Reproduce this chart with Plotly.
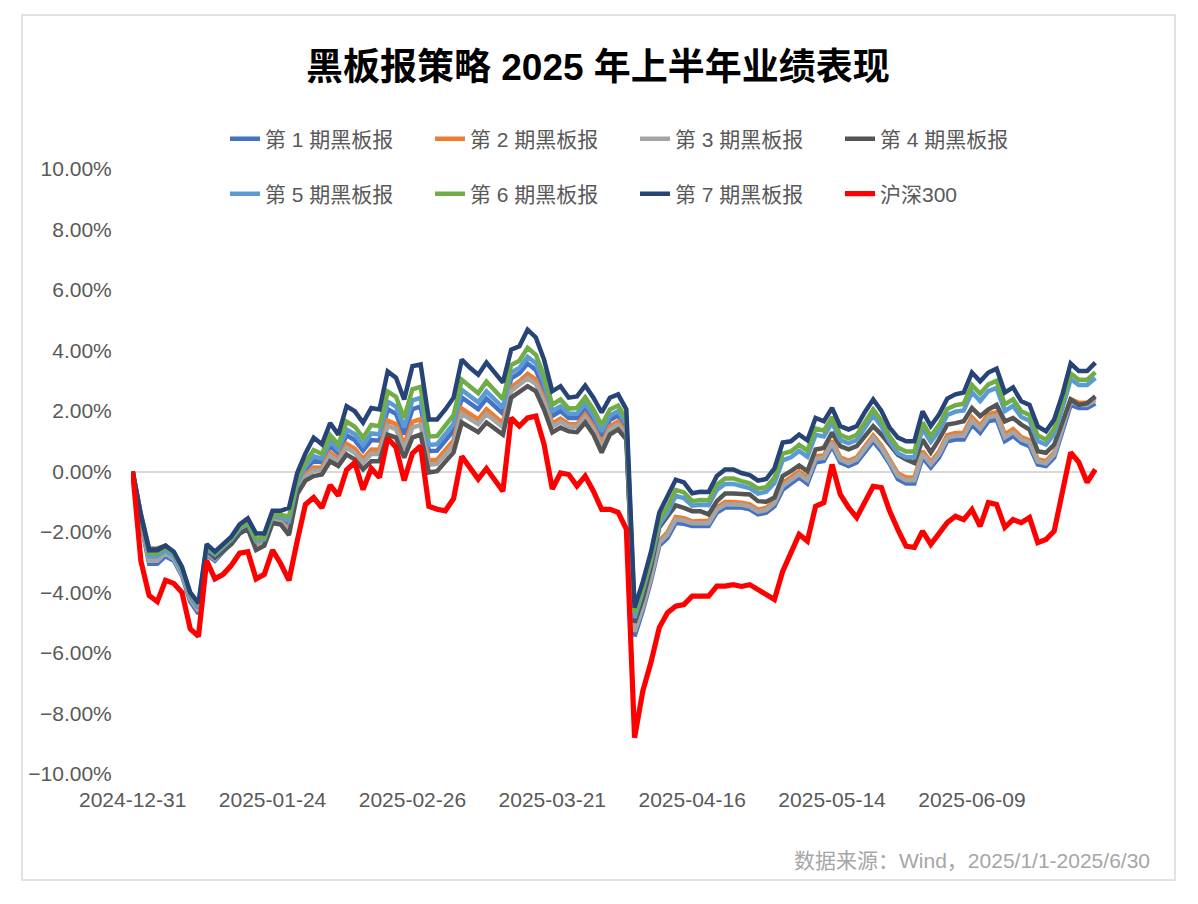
import pandas as pd
import plotly.graph_objects as go

# ---- data (percent returns since 2024-12-31) ----
HOLIDAYS = ["2025-01-01", "2025-01-28", "2025-01-29", "2025-01-30", "2025-01-31",
            "2025-02-03", "2025-02-04", "2025-04-04", "2025-05-01", "2025-05-02",
            "2025-05-05", "2025-06-02"]
dates = [d.strftime("%Y-%m-%d") for d in pd.bdate_range("2024-12-31", "2025-06-30")
         if d.strftime("%Y-%m-%d") not in HOLIDAYS]

tick_dates = ["2024-12-31", "2025-01-24", "2025-02-26", "2025-03-21",
              "2025-04-16", "2025-05-14", "2025-06-09"]

s1 = [0, -1.7, -3.05, -3.05, -2.8, -2.95, -3.45, -4.3, -4.7, -2.75,
      -2.95, -2.65, -2.35, -1.95, -1.75, -2.3, -2.25, -1.5, -1.55, -1.72,
      -0.45, 0.06, 0.36, 0.3, 0.84, 0.6, 1.2, 1.04, 0.69, 1.04,
      1.02, 2.06, 1.91, 1.23, 2.06, 2.15, 0.67, 0.69, 1.0, 1.35,
      2.45, 2.24, 2.06, 2.41, 2.15, 1.91, 3.08, 3.25, 3.57, 3.36,
      2.71, 1.83, 2.0, 1.77, 1.77, 2.1, 1.7, 1.16, 1.7, 1.85,
      1.45, -5.45, -4.6, -3.6, -2.45, -2.2, -1.7, -1.73, -1.8, -1.8,
      -1.8, -1.36, -1.19, -1.19, -1.19, -1.25, -1.42, -1.36, -1.15, -0.6,
      -0.4, -0.2, -0.4, 0.3, 0.35, 0.84, 0.3, 0.18, 0.3, 0.67,
      1.0, 0.67, 0.25, -0.25, -0.4, -0.4, 0.46, 0.13, 0.46, 1.0,
      1.06, 1.06, 1.55, 1.28, 1.66, 1.72, 1.0, 1.17, 0.95, 0.84,
      0.23, 0.18, 0.46, 1.33, 2.2, 2.1, 2.1, 2.25]

s2 = [0, -1.6, -2.9, -2.9, -2.7, -2.85, -3.35, -4.2, -4.6, -2.65,
      -2.85, -2.6, -2.35, -1.98, -1.82, -2.48, -2.36, -1.61, -1.65, -1.9,
      -0.6, -0.1, 0.13, 0.12, 0.62, 0.41, 0.91, 0.75, 0.41, 0.73,
      0.72, 1.68, 1.56, 0.88, 1.64, 1.73, 0.36, 0.39, 0.69, 1.03,
      2.08, 1.89, 1.72, 2.06, 1.81, 1.6, 2.79, 2.98, 3.23, 3.04,
      2.41, 1.59, 1.75, 1.57, 1.56, 1.89, 1.49, 0.92, 1.49, 1.65,
      1.28, -5.2, -4.4, -3.4, -2.3, -2.01, -1.5, -1.54, -1.65, -1.64,
      -1.64, -1.19, -1.01, -1.01, -1.03, -1.09, -1.26, -1.2, -0.98, -0.38,
      -0.2, 0.0, -0.2, 0.51, 0.53, 1.02, 0.47, 0.35, 0.47, 0.85,
      1.19, 0.86, 0.42, -0.06, -0.2, -0.2, 0.67, 0.32, 0.66, 1.2,
      1.27, 1.28, 1.79, 1.52, 1.89, 1.96, 1.23, 1.4, 1.14, 1.03,
      0.41, 0.34, 0.64, 1.5, 2.39, 2.27, 2.27, 2.44]

s3 = [0, -1.6, -2.95, -2.95, -2.7, -2.9, -3.4, -4.2, -4.6, -2.7,
      -2.9, -2.6, -2.35, -2.0, -1.85, -2.52, -2.39, -1.64, -1.69, -1.97,
      -0.65, -0.17, 0.03, 0.04, 0.52, 0.33, 0.78, 0.62, 0.29, 0.59,
      0.58, 1.51, 1.4, 0.73, 1.45, 1.54, 0.22, 0.25, 0.55, 0.88,
      1.91, 1.73, 1.57, 1.9, 1.66, 1.46, 2.66, 2.86, 3.08, 2.9,
      2.28, 1.48, 1.64, 1.49, 1.47, 1.79, 1.39, 0.81, 1.39, 1.55,
      1.2, -5.3, -4.5, -3.5, -2.36, -2.09, -1.59, -1.62, -1.71, -1.71,
      -1.71, -1.26, -1.09, -1.09, -1.1, -1.16, -1.33, -1.27, -1.05, -0.48,
      -0.29, -0.09, -0.29, 0.42, 0.45, 0.94, 0.4, 0.28, 0.4, 0.77,
      1.11, 0.78, 0.35, -0.14, -0.29, -0.29, 0.58, 0.24, 0.57, 1.11,
      1.18, 1.18, 1.69, 1.42, 1.79, 1.85, 1.13, 1.3, 1.06, 0.95,
      0.33, 0.27, 0.56, 1.43, 2.31, 2.2, 2.2, 2.36]

s4 = [0, -1.4, -2.55, -2.55, -2.45, -2.7, -3.25, -4.1, -4.5, -2.6,
      -2.85, -2.6, -2.4, -2.05, -1.9, -2.6, -2.45, -1.7, -1.75, -2.1,
      -0.75, -0.3, -0.15, -0.1, 0.34, 0.18, 0.56, 0.4, 0.07, 0.34,
      0.34, 1.22, 1.12, 0.46, 1.12, 1.22, -0.03, 0.01, 0.3, 0.63,
      1.62, 1.45, 1.3, 1.62, 1.4, 1.22, 2.44, 2.65, 2.82, 2.65,
      2.05, 1.29, 1.45, 1.33, 1.3, 1.62, 1.22, 0.63, 1.22, 1.39,
      1.06, -5.0, -4.2, -3.15, -1.85, -1.48, -1.12, -1.2, -1.31, -1.31,
      -1.42, -0.98, -0.73, -0.73, -0.76, -0.76, -0.98, -1.0, -0.86, -0.15,
      0.01, 0.2, 0.01, 0.73, 0.78, 1.29, 0.84, 0.73, 0.84, 1.17,
      1.5, 1.22, 0.89, 0.55, 0.4, 0.28, 1.06, 0.63, 1.06, 1.55,
      1.6, 1.66, 2.1, 1.83, 2.05, 2.2, 1.66, 1.77, 1.55, 1.39,
      0.67, 0.62, 0.89, 1.6, 2.38, 2.2, 2.26, 2.49]

s5 = [0, -1.55, -2.8, -2.8, -2.6, -2.8, -3.3, -4.1, -4.5, -2.55,
      -2.75, -2.5, -2.25, -1.9, -1.72, -2.31, -2.24, -1.49, -1.52, -1.63,
      -0.39, 0.17, 0.51, 0.42, 1.0, 0.72, 1.39, 1.23, 0.88, 1.26,
      1.23, 2.31, 2.15, 1.46, 2.35, 2.43, 0.88, 0.9, 1.21, 1.57,
      2.7, 2.48, 2.29, 2.65, 2.37, 2.11, 3.27, 3.42, 3.79, 3.58,
      2.91, 2.0, 2.16, 1.91, 1.91, 2.25, 1.85, 1.32, 1.85, 1.99,
      1.57, -4.85, -3.95, -2.95, -1.77, -1.36, -0.81, -0.88, -1.13, -1.1,
      -1.11, -0.61, -0.41, -0.41, -0.48, -0.55, -0.73, -0.67, -0.38, 0.37,
      0.47, 0.68, 0.49, 1.21, 1.16, 1.62, 1.04, 0.93, 1.04, 1.48,
      1.86, 1.49, 0.99, 0.6, 0.47, 0.47, 1.41, 0.98, 1.34, 1.87,
      1.98, 2.02, 2.62, 2.33, 2.66, 2.76, 2.0, 2.17, 1.8, 1.68,
      1.01, 0.89, 1.24, 2.09, 3.05, 2.86, 2.86, 3.09]

s6 = [0, -1.5, -2.7, -2.7, -2.5, -2.7, -3.2, -4.05, -4.4, -2.45,
      -2.7, -2.45, -2.2, -1.85, -1.66, -2.23, -2.18, -1.43, -1.44, -1.49,
      -0.27, 0.31, 0.71, 0.58, 1.2, 0.89, 1.65, 1.48, 1.12, 1.54,
      1.5, 2.64, 2.47, 1.77, 2.72, 2.8, 1.16, 1.17, 1.49, 1.86,
      3.03, 2.8, 2.59, 2.97, 2.67, 2.39, 3.52, 3.66, 4.09, 3.86,
      3.17, 2.21, 2.38, 2.08, 2.1, 2.45, 2.05, 1.53, 2.05, 2.18,
      1.73, -4.7, -3.85, -2.85, -1.62, -1.17, -0.61, -0.69, -0.98, -0.94,
      -0.95, -0.44, -0.23, -0.23, -0.32, -0.39, -0.57, -0.52, -0.2, 0.59,
      0.66, 0.88, 0.69, 1.42, 1.35, 1.8, 1.21, 1.1, 1.21, 1.66,
      2.05, 1.68, 1.16, 0.79, 0.66, 0.66, 1.62, 1.17, 1.54, 2.07,
      2.19, 2.24, 2.86, 2.57, 2.88, 3.0, 2.22, 2.39, 1.99, 1.87,
      1.19, 1.05, 1.42, 2.26, 3.24, 3.03, 3.03, 3.28]

s7 = [0, -1.45, -2.6, -2.6, -2.45, -2.65, -3.15, -4.0, -4.35, -2.4,
      -2.65, -2.4, -2.15, -1.75, -1.55, -2.05, -2.05, -1.3, -1.3, -1.2,
      -0.05, 0.6, 1.12, 0.9, 1.6, 1.22, 2.16, 1.99, 1.62, 2.1,
      2.05, 3.31, 3.1, 2.38, 3.48, 3.54, 1.72, 1.72, 2.05, 2.44,
      3.7, 3.43, 3.2, 3.6, 3.27, 2.94, 4.03, 4.14, 4.69, 4.43,
      3.7, 2.65, 2.82, 2.44, 2.48, 2.84, 2.44, 1.95, 2.44, 2.55,
      2.05, -4.5, -3.65, -2.65, -1.36, -0.85, -0.27, -0.36, -0.72, -0.67,
      -0.68, -0.15, 0.07, 0.07, -0.05, -0.12, -0.3, -0.25, 0.1, 0.96,
      1.0, 1.22, 1.03, 1.77, 1.66, 2.1, 1.5, 1.39, 1.5, 1.97,
      2.38, 2.0, 1.45, 1.12, 1.0, 1.0, 1.99, 1.5, 1.88, 2.41,
      2.55, 2.61, 3.27, 2.98, 3.27, 3.4, 2.61, 2.78, 2.32, 2.2,
      1.49, 1.33, 1.72, 2.55, 3.57, 3.32, 3.32, 3.6]

hs300 = [0, -2.95, -4.1, -4.3, -3.6, -3.7, -4.0, -5.2, -5.45, -2.95,
         -3.55, -3.4, -3.1, -2.7, -2.65, -3.55, -3.4, -2.6, -3.05, -3.6,
         -2.3, -1.09, -0.86, -1.2, -0.45, -0.8, 0.05, 0.3, -0.6, 0.1,
         -0.2, 1.1, 0.8, -0.3, 0.6, 0.85, -1.15, -1.25, -1.3, -0.9,
         0.5, 0.12, -0.25, 0.1, -0.3, -0.65, 1.77, 1.5, 1.77, 1.83,
         0.9, -0.58, -0.05, -0.1, -0.48, -0.15, -0.65, -1.25, -1.25, -1.35,
         -1.9, -8.8, -7.26, -6.3, -5.16, -4.67, -4.45, -4.4, -4.12, -4.12,
         -4.12, -3.79, -3.79, -3.74, -3.8, -3.74, -3.9, -4.07, -4.23, -3.3,
         -2.68, -2.08, -2.3, -1.15, -1.03, 0.23, -0.76, -1.19, -1.52, -0.98,
         -0.49, -0.53, -1.31, -1.92, -2.47, -2.51, -1.97, -2.41, -2.08, -1.69,
         -1.48, -1.59, -1.26, -1.81, -1.03, -1.09, -1.85, -1.59, -1.69, -1.52,
         -2.35, -2.25, -1.97, -0.69, 0.63, 0.3, -0.36, 0.07]

names = ["第 1 期黑板报", "第 2 期黑板报", "第 3 期黑板报", "第 4 期黑板报",
         "第 5 期黑板报", "第 6 期黑板报", "第 7 期黑板报", "沪深300"]
series = [s1, s2, s3, s4, s5, s6, s7, hs300]
colors = ["#4472C4", "#ED7D31", "#A5A5A5", "#555555",
          "#5B9BD5", "#70AD47", "#264478", "#FF0000"]
widths = [4.5, 4.5, 4.5, 4.5, 4.5, 4.5, 4.5, 5.2]

FONT = "Liberation Sans, Noto Sans CJK SC, sans-serif"

# ---- layout geometry (pixels; page body adds an 8px offset) ----
OFF = 8
W, H = 1190, 896
L_M, R_M, T_M, B_M = 123, 101, 161, 130
PW, PH = W - L_M - R_M, H - T_M - B_M


def px(x):
    """screen x -> paper fraction"""
    return (x - OFF - L_M) / PW


def py(y):
    """screen y -> paper fraction"""
    return (H - B_M - (y - OFF)) / PH


fig = go.Figure()
for i, (nm, ys, c, w) in enumerate(zip(names, series, colors, widths)):
    fig.add_trace(go.Scatter(
        x=dates, y=ys, name=nm, mode="lines",
        line=dict(color=c, width=w),
        legend="legend" if i < 4 else "legend2",
        hoverinfo="skip",
    ))

legend_common = dict(
    orientation="h", xanchor="left", yanchor="middle",
    font=dict(family=FONT, size=21, color="#595959"),
    entrywidth=160, entrywidthmode="pixels",
    bgcolor="rgba(0,0,0,0)", itemwidth=30, tracegroupgap=0,
)

fig.update_layout(
    width=W, height=H,
    margin=dict(l=L_M, r=R_M, t=T_M, b=B_M),
    paper_bgcolor="white", plot_bgcolor="white",
    font=dict(family=FONT, color="#595959"),
    showlegend=True,
    legend=dict(x=px(225), y=py(139), **legend_common),
    legend2=dict(x=px(225), y=py(194), **legend_common),
    xaxis=dict(
        type="category", range=[-0.2, 117.2],
        tickmode="array", tickvals=tick_dates, ticktext=tick_dates,
        showgrid=False, zeroline=False, showline=False,
        ticks="outside", ticklen=7, tickcolor="rgba(0,0,0,0)",
        tickfont=dict(family=FONT, size=21, color="#595959"),
    ),
    yaxis=dict(
        range=[-10, 10], dtick=2, tickformat=".2f", ticksuffix="%",
        showgrid=False, zeroline=True, zerolinecolor="#D9D9D9", zerolinewidth=1.5,
        showline=False, ticks="outside", ticklen=14, tickcolor="rgba(0,0,0,0)",
        tickfont=dict(family=FONT, size=21, color="#595959"),
    ),
    annotations=[
        dict(text="<b>黑板报策略 2025 年上半年业绩表现</b>", x=px(598), y=py(68),
             xref="paper", yref="paper", xanchor="center", yanchor="middle",
             showarrow=False, font=dict(family=FONT, size=37, color="#000000")),
        dict(text="数据来源：Wind，2025/1/1-2025/6/30", x=px(1152), y=py(860),
             xref="paper", yref="paper", xanchor="right", yanchor="middle",
             showarrow=False, font=dict(family=FONT, size=21, color="#A6A6A6")),
    ],
    shapes=[
        dict(type="rect", xref="paper", yref="paper",
             x0=px(22), x1=px(1175), y0=py(880), y1=py(15),
             line=dict(color="#D9D9D9", width=1.5), fillcolor="rgba(0,0,0,0)",
             layer="below"),
    ],
)

fig.write_html("out.html")
